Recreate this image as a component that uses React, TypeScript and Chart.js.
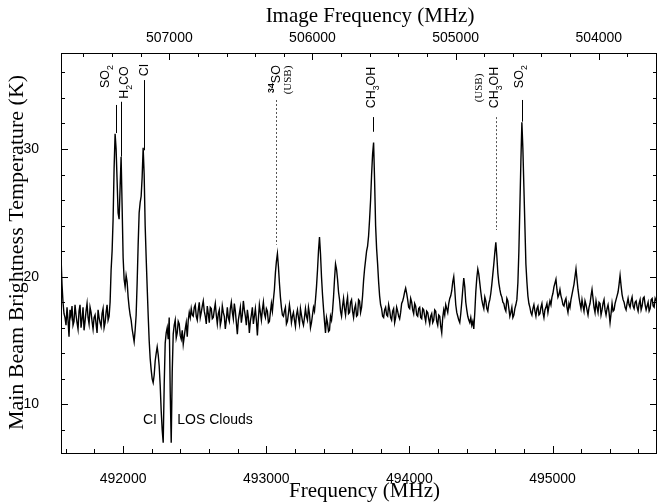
import React, { useEffect, useRef } from 'react';
import { Chart, registerables } from 'chart.js';

Chart.register(...registerables);

// ---- data -------------------------------------------------------------
const FREQ_START = 491566; // MHz, first channel
const FREQ_STEP = 7; // MHz per channel
const tempK = [
  21.6, 19.4, 18.0, 17.1, 16.8, 16.2, 17.6, 16.6, 15.3, 17.4, 16.9, 17.7, 16.2, 16.5, 17.8, 17.0,
  16.4, 15.9, 17.3, 17.8, 16.0, 16.7, 17.6, 15.8, 16.5, 17.3, 17.9, 16.8, 16.3, 17.6, 17.2, 16.5,
  15.9, 16.8, 17.0, 16.3, 15.6, 17.4, 16.8, 16.4, 16.1, 17.1, 17.5, 16.0, 16.4, 17.2, 17.8, 16.6,
  16.9, 18.0,
  20.5, 22.0, 24.5, 28.5, 31.2, 30.0, 27.5, 25.0, 24.5, 27.0, 29.4, 25.5, 21.5, 19.8, 19.2, 20.1,
  19.6, 18.4, 17.6, 17.0, 16.6, 15.9, 15.4, 14.9, 15.8, 17.0, 19.5, 22.5, 25.0, 25.8, 26.3, 27.8,
  30.1, 28.0, 24.0, 21.5, 19.2, 17.0, 15.0, 13.6, 12.7, 12.0, 11.7, 12.3, 13.4, 14.0, 14.5, 13.9,
  13.0, 11.5, 9.5, 8.0, 7.0, 11.5, 14.8, 15.6, 16.0, 15.1, 16.8, 11.0, 7.0, 12.5, 15.5, 16.2,
  16.6, 15.2, 15.6, 16.5, 16.3, 15.4, 15.1, 15.8, 14.7, 15.3, 15.9, 16.4, 15.3, 16.6, 17.2, 16.8,
  17.5, 17.0,
  16.9, 17.6, 17.8, 16.9, 16.6, 17.4, 18.0, 16.8, 17.2, 17.7, 18.1, 17.3, 16.9, 16.3, 17.7, 17.1,
  16.4, 17.6, 17.5, 16.7, 16.8, 17.4, 17.9, 17.0, 16.3, 17.1, 17.4, 16.2, 16.6, 17.7, 17.2, 16.9,
  15.9, 16.6, 17.6, 16.8, 16.5, 17.5, 18.0, 17.2, 16.7, 17.9, 17.3, 16.4, 15.5, 16.6, 17.1, 17.6,
  16.4, 17.0, 18.1, 17.4, 16.9, 16.2, 17.4, 16.8, 15.6, 16.5, 17.0, 17.6, 16.3, 16.9, 17.5, 16.6,
  15.4, 16.7, 17.8, 17.2, 16.6, 17.4, 18.0, 17.1, 16.8, 17.5, 17.3, 16.4, 16.5, 17.2, 17.9, 17.3,
  18.2, 19.0, 20.3, 21.2, 21.8, 20.8, 19.5, 18.4, 17.6, 17.0, 16.9, 17.3, 17.6, 16.3, 16.5, 17.1,
  17.8, 17.2, 16.4, 16.9, 17.2, 16.6, 16.1, 17.0, 17.4, 16.8, 16.3, 17.5, 17.0, 16.5, 16.2, 16.8,
  17.5, 16.9, 16.6, 17.6, 17.1, 16.0, 16.4, 17.0, 17.6, 17.3, 18.2, 19.2, 20.5, 22.0, 23.1, 21.8,
  20.0, 18.6, 17.5, 16.5, 15.6, 16.8, 16.4, 15.7, 15.8, 16.9, 16.6, 17.3, 18.4, 19.8, 21.0, 20.6,
  19.8, 18.8, 18.2, 17.3, 16.9, 17.7, 18.3, 17.5, 17.0, 17.9, 18.4, 17.1, 17.2, 18.0, 18.2, 17.3,
  16.8, 17.5, 17.8, 16.9, 17.0, 18.2, 18.1, 17.2, 17.6, 18.5,
  19.7, 20.6, 21.3, 22.0, 22.4, 23.2, 24.5, 26.0, 28.0, 29.6, 30.5, 27.5, 24.0, 22.2, 21.0, 19.6,
  18.5, 17.8, 17.5, 16.9, 16.8, 17.4, 17.6, 17.0, 16.9, 17.8, 17.4, 16.8, 16.6, 17.3, 17.5, 16.4,
  16.8, 17.6, 17.3, 16.9, 16.7, 17.2, 17.9, 18.1, 18.4, 18.8, 19.1, 18.7, 18.2, 17.6, 17.5, 18.3,
  18.0, 17.4, 17.1, 17.9, 17.7, 17.0, 16.9, 17.5, 17.6, 16.8, 16.7, 17.5, 17.4, 16.9, 16.5, 17.3,
  17.2, 16.7, 16.3, 16.9, 17.1, 16.4, 16.6, 17.4, 17.3, 16.5, 16.2, 17.0, 16.9, 16.1, 15.6, 16.8,
  17.4, 17.0, 17.8, 17.5, 17.2, 17.9, 18.3, 18.5, 18.9, 19.6, 20.0, 19.0, 17.8, 17.2, 16.9, 16.6,
  16.4, 17.1, 18.0, 19.0,
  19.9, 19.2, 18.0, 17.4, 16.9, 16.6, 16.4, 16.8, 16.2, 16.5, 15.9, 17.2, 18.8, 19.9, 20.6, 20.2,
  19.5, 18.8, 18.2, 17.8, 17.5, 18.4, 18.1, 17.5, 17.3, 17.9, 18.2, 18.7, 19.4, 20.2, 21.0, 21.9,
  22.7, 21.6, 20.3, 19.5, 19.0, 18.6, 18.4, 18.0, 17.9, 17.5, 17.3, 18.3, 18.1, 17.5, 16.9, 17.2,
  17.6, 16.8, 17.0, 17.5, 17.8, 18.2, 19.5, 22.0, 25.5, 29.0, 32.1, 30.0, 27.0, 24.0, 21.0, 19.6,
  18.5, 17.9, 17.6, 17.2, 17.0, 17.5, 17.8, 17.3, 16.9, 17.5, 17.7, 17.0, 17.1, 17.6, 17.9, 17.2,
  16.8, 17.4, 17.6, 17.9, 17.2, 17.7, 18.1, 17.8, 18.4, 18.7, 19.2, 19.5, 19.8, 19.0, 18.4, 18.6,
  19.0, 18.5, 18.2, 17.8,
  17.7, 18.1, 18.3, 17.6, 17.2, 17.9, 17.6, 18.2, 18.6, 19.0, 19.4, 20.0, 20.6, 19.8, 19.0, 18.4,
  17.9, 17.5, 18.2, 17.7, 17.3, 18.1, 17.8, 17.4, 17.0, 17.6, 17.9, 18.5, 19.0, 18.3, 17.6, 17.2,
  18.1, 17.6, 17.2, 18.0, 17.9, 17.0, 17.4, 17.9, 18.2, 17.4, 17.0, 17.5, 17.8, 17.2, 16.4, 17.1,
  17.9, 17.3, 17.4, 17.9, 18.2, 18.5, 18.8, 19.4, 20.1, 19.3, 18.6, 18.2, 18.0, 17.6, 17.4, 17.9,
  18.3, 17.8, 17.6, 18.1, 18.4, 17.7, 17.5, 18.0, 18.1, 17.6, 17.3, 17.9, 18.2, 17.4, 17.7, 18.3,
  18.4, 17.8, 17.4, 17.7, 18.0, 17.3, 17.5, 18.2, 18.3, 17.7, 17.6, 18.3, 18.1,
];

// axis ranges and tick labels
const X_MIN = 491566;
const X_MAX = 495730;
const Y_MIN = 6.19;
const Y_MAX = 37.52;
const IMAGE_SUM = 999323; // image frequency = IMAGE_SUM - frequency
const bottomTickLabels = [492000, 493000, 494000, 495000];
const topTickLabels = [507000, 506000, 505000, 504000];
const yTickLabels = [10, 20, 30];
const X_MAJOR_STEP = 1000;
const X_MINOR_STEP = 200;
const Y_MAJOR_STEP = 10;
const Y_MINOR_STEP = 2;

// line identifications
const markerNames = ['SO2', 'H2CO', 'CI', '34SO', 'CH3OH', 'CH3OH-USB', 'SO2b'];
const markerFreq = [491949, 491984, 492145, 493070, 493745, 494604, 494788];
const markerTopK = [33.45, 33.7, 35.4, 33.84, 32.5, 32.5, 33.84];
const markerBottomK = [31.25, 29.4, 29.9, 22.5, 31.35, 23.66, 32.14];
const markerDotted = [false, false, false, true, false, true, false];

const SANS = '"Liberation Sans", Arial, Helvetica, sans-serif';
const SERIF = '"Liberation Serif", "Times New Roman", Times, serif';

type Part = { t: string; sub?: boolean; sup?: boolean; bold?: boolean; serif?: boolean };
type LabelSpec = { marker: number; dx: number; y: number; size: number; parts: Part[] };

const molLabels: LabelSpec[] = [
  { marker: 0, dx: -10, y: 76.5, size: 12.5, parts: [{ t: 'SO' }, { t: '2', sub: true }] },
  { marker: 1, dx: 4, y: 82.5, size: 12.5, parts: [{ t: 'H' }, { t: '2', sub: true }, { t: 'CO' }] },
  { marker: 2, dx: 0.5, y: 70, size: 12.5, parts: [{ t: 'CI' }] },
  { marker: 3, dx: 0, y: 79, size: 12.5, parts: [{ t: '34', sup: true, bold: true }, { t: 'SO' }] },
  { marker: 3, dx: 12, y: 80, size: 11, parts: [{ t: '(USB)', serif: true }] },
  { marker: 4, dx: -1, y: 87.5, size: 12.5, parts: [{ t: 'CH' }, { t: '3', sub: true }, { t: 'OH' }] },
  { marker: 5, dx: -16.5, y: 88, size: 11, parts: [{ t: '(USB)', serif: true }] },
  { marker: 5, dx: -1.5, y: 87.5, size: 12.5, parts: [{ t: 'CH' }, { t: '3', sub: true }, { t: 'OH' }] },
  { marker: 6, dx: -3, y: 76.7, size: 12.5, parts: [{ t: 'SO' }, { t: '2', sub: true }] },
];

function drawRotatedRun(ctx: CanvasRenderingContext2D, parts: Part[], cx: number, cy: number, base: number) {
  let total = 0;
  const items = parts.map((p) => {
    const size = p.sub || p.sup ? base * 0.7 : base;
    const font = `${p.bold ? 'bold ' : ''}${size}px ${p.serif ? SERIF : SANS}`;
    ctx.font = font;
    const w = ctx.measureText(p.t).width;
    total += w;
    return { p, font, w };
  });
  ctx.save();
  ctx.translate(cx, cy);
  ctx.rotate(-Math.PI / 2);
  ctx.textBaseline = 'middle';
  ctx.textAlign = 'left';
  ctx.fillStyle = '#000';
  let x = -total / 2;
  for (const it of items) {
    ctx.font = it.font;
    const dy = it.p.sub ? base * 0.4 : it.p.sup ? -base * 0.35 : 0;
    ctx.fillText(it.p.t, x, dy);
    x += it.w;
  }
  ctx.restore();
}

const decorPlugin = {
  id: 'decor',
  afterDraw(chart: any) {
    const ctx: CanvasRenderingContext2D = chart.ctx;
    const { left, right, top, bottom } = chart.chartArea;
    const xs = chart.scales.x;
    const x2 = chart.scales.x2;
    const ys = chart.scales.y;
    ctx.save();
    // frame
    ctx.strokeStyle = '#000';
    ctx.lineWidth = 1;
    ctx.strokeRect(Math.round(left) + 0.5, Math.round(top) + 0.5, Math.round(right - left) - 1, Math.round(bottom - top));

    // ticks (inward)
    const major = 7;
    const minor = 4;
    ctx.beginPath();
    for (let f = Math.ceil(X_MIN / X_MINOR_STEP) * X_MINOR_STEP; f <= X_MAX; f += X_MINOR_STEP) {
      const px = Math.round(xs.getPixelForValue(f)) + 0.5;
      const len = f % X_MAJOR_STEP === 0 ? major : minor;
      ctx.moveTo(px, bottom);
      ctx.lineTo(px, bottom - len);
    }
    const imgMin = IMAGE_SUM - X_MAX;
    const imgMax = IMAGE_SUM - X_MIN;
    for (let v = Math.ceil(imgMin / X_MINOR_STEP) * X_MINOR_STEP; v <= imgMax; v += X_MINOR_STEP) {
      const px = Math.round(x2.getPixelForValue(v)) + 0.5;
      const len = v % X_MAJOR_STEP === 0 ? major : minor;
      ctx.moveTo(px, top);
      ctx.lineTo(px, top + len);
    }
    for (let k = Math.ceil(Y_MIN / Y_MINOR_STEP) * Y_MINOR_STEP; k <= Y_MAX; k += Y_MINOR_STEP) {
      const py = Math.round(ys.getPixelForValue(k)) + 0.5;
      const len = k % Y_MAJOR_STEP === 0 ? major : minor;
      ctx.moveTo(left, py);
      ctx.lineTo(left + len, py);
      ctx.moveTo(right, py);
      ctx.lineTo(right - len, py);
    }
    ctx.stroke();

    // line markers
    for (let i = 0; i < markerFreq.length; i++) {
      const px = Math.round(xs.getPixelForValue(markerFreq[i])) + 0.5;
      const y1 = ys.getPixelForValue(markerTopK[i]);
      const y2 = ys.getPixelForValue(markerBottomK[i]);
      ctx.beginPath();
      if (markerDotted[i]) {
        ctx.setLineDash([2, 2]);
        ctx.strokeStyle = '#555';
      } else {
        ctx.setLineDash([]);
        ctx.strokeStyle = '#000';
      }
      ctx.moveTo(px, y1);
      ctx.lineTo(px, y2);
      ctx.stroke();
    }
    ctx.setLineDash([]);

    // rotated molecule labels
    for (const lab of molLabels) {
      const cx = xs.getPixelForValue(markerFreq[lab.marker]) + lab.dx;
      drawRotatedRun(ctx, lab.parts, cx, lab.y, lab.size);
    }

    // absorption labels
    ctx.fillStyle = '#000';
    ctx.font = `14px ${SANS}`;
    ctx.textBaseline = 'middle';
    ctx.textAlign = 'center';
    ctx.fillText('CI', 150, 420);
    ctx.fillText('LOS Clouds', 215, 420);

    // axis titles
    ctx.font = `21px ${SERIF}`;
    ctx.fillText('Frequency (MHz)', 364.5, 491);
    ctx.fillText('Image Frequency (MHz)', 370, 16);
    ctx.save();
    ctx.translate(17.5, 252.5);
    ctx.rotate(-Math.PI / 2);
    ctx.font = `22px ${SERIF}`;
    ctx.fillText('Main Beam Brightness Temperature (K)', 0, 0);
    ctx.restore();

    ctx.restore();
  },
};

export default function App() {
  const canvasRef = useRef<HTMLCanvasElement | null>(null);

  useEffect(() => {
    const canvas = canvasRef.current;
    if (!canvas) return;
    const points = tempK.map((k, i) => ({ x: FREQ_START + i * FREQ_STEP, y: k }));
    const tickFont = { family: SANS, size: 14 };
    const chart = new Chart(canvas, {
      type: 'line',
      data: {
        datasets: [
          {
            data: points,
            borderColor: '#000',
            borderWidth: 1.4,
            pointRadius: 0,
            tension: 0,
            fill: false,
          },
        ],
      },
      options: {
        animation: false,
        responsive: false,
        events: [],
        layout: { padding: { left: 0, right: 2, top: 0, bottom: 0 } },
        plugins: { legend: { display: false }, tooltip: { enabled: false }, title: { display: false } },
        scales: {
          x: {
            type: 'linear',
            position: 'bottom',
            min: X_MIN,
            max: X_MAX,
            grid: { display: false, drawTicks: false },
            border: { display: false },
            afterBuildTicks: (s: any) => {
              s.ticks = bottomTickLabels.map((v) => ({ value: v }));
            },
            ticks: {
              autoSkip: false,
              maxRotation: 0,
              padding: 18,
              color: '#000',
              font: tickFont,
              callback: (v: any) => String(v),
            },
            afterFit: (s: any) => {
              s.height = 51;
            },
          },
          x2: {
            type: 'linear',
            position: 'top',
            reverse: true,
            min: IMAGE_SUM - X_MAX,
            max: IMAGE_SUM - X_MIN,
            grid: { display: false, drawTicks: false },
            border: { display: false },
            afterBuildTicks: (s: any) => {
              s.ticks = topTickLabels.map((v) => ({ value: v }));
            },
            ticks: {
              autoSkip: false,
              maxRotation: 0,
              padding: 6,
              color: '#000',
              font: tickFont,
              callback: (v: any) => String(v),
            },
            afterFit: (s: any) => {
              s.height = 53;
            },
          },
          y: {
            type: 'linear',
            position: 'left',
            min: Y_MIN,
            max: Y_MAX,
            grid: { display: false, drawTicks: false },
            border: { display: false },
            afterBuildTicks: (s: any) => {
              s.ticks = yTickLabels.map((v) => ({ value: v }));
            },
            ticks: {
              autoSkip: false,
              padding: 22,
              color: '#000',
              font: tickFont,
              callback: (v: any) => String(v),
            },
            afterFit: (s: any) => {
              s.width = 61;
            },
          },
        },
      } as any,
      plugins: [decorPlugin],
    });
    return () => chart.destroy();
  }, []);

  return (
    <canvas
      ref={canvasRef}
      width={659}
      height={504}
      style={{ position: 'fixed', left: 0, top: 0, width: 659, height: 504, display: 'block', background: '#fff' }}
    />
  );
}
